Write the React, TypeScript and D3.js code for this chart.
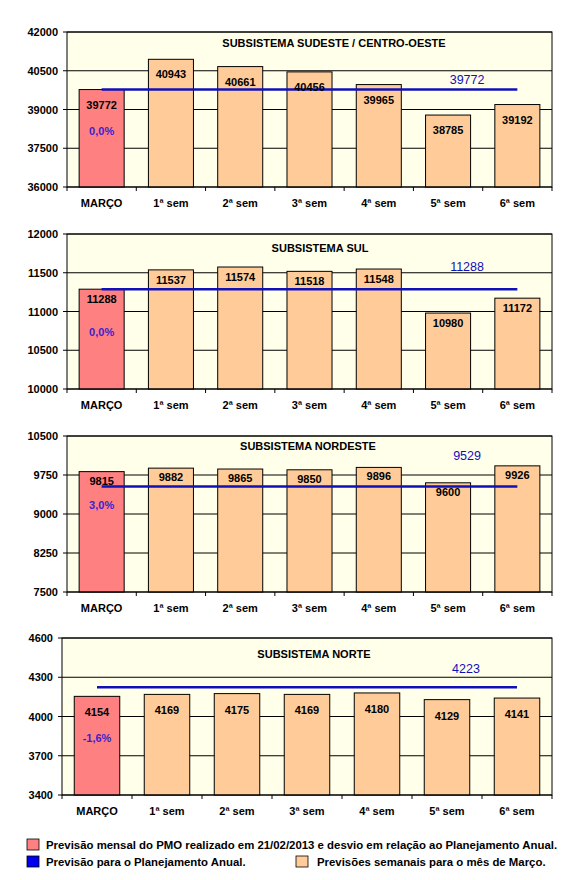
import React from "react";
import * as d3 from "d3";

const categories = ["MARÇO", "1ª sem", "2ª sem", "3ª sem", "4ª sem", "5ª sem", "6ª sem"];
const titles = [
  "SUBSISTEMA SUDESTE / CENTRO-OESTE",
  "SUBSISTEMA SUL",
  "SUBSISTEMA NORDESTE",
  "SUBSISTEMA NORTE",
];
const sudesteValues = [39772, 40943, 40661, 40456, 39965, 38785, 39192];
const sulValues = [11288, 11537, 11574, 11518, 11548, 10980, 11172];
const nordesteValues = [9815, 9882, 9865, 9850, 9896, 9600, 9926];
const norteValues = [4154, 4169, 4175, 4169, 4180, 4129, 4141];
const planValues = [39772, 11288, 9529, 4223];
const deviations = ["0,0%", "0,0%", "3,0%", "-1,6%"];
const yDomains: [number, number][] = [
  [36000, 42000],
  [10000, 12000],
  [7500, 10500],
  [3400, 4600],
];
const yTickSteps = [1500, 500, 750, 300];
const legendLabels = [
  "Previsão mensal do PMO realizado em 21/02/2013 e desvio em relação ao Planejamento Anual.",
  "Previsão para o Planejamento Anual.",
  "Previsões semanais para o mês de Março.",
];

const seriesValues = [sudesteValues, sulValues, nordesteValues, norteValues];

// layout
const panelTops = [32, 234, 436, 638];
const panelBottoms = [187, 389, 592, 795];
const panelLefts = [67, 67, 67, 62];
const panelRight = 552;
const titleCenters = [334, 320, 308, 314];
const titleOffsets = [11, 14, 10, 16];
const valueLabelOffsets = [15, 10, 9, 16];
const pctOffsets = [41, 43, 33, 42];
const planLabelOffsets = [10, 22, 30, 18];

const FONT = "'Liberation Sans', Arial, sans-serif";
const MONTH_COLOR = "#FF8080";
const WEEK_COLOR = "#FFCC99";
const PLAN_COLOR = "#1010B8";
const PCT_COLOR = "#3A1FD0";
const BG = "#FFFFEA";

function Panel({ i }: { i: number }) {
  const values = seriesValues[i];
  const [y0, y1] = yDomains[i];
  const top = panelTops[i];
  const bottom = panelBottoms[i];
  const left = panelLefts[i];
  const x = d3.scaleBand<string>().domain(categories).range([left, panelRight]).padding(0);
  const y = d3.scaleLinear().domain([y0, y1]).range([bottom, top]);
  const ticks = d3.range(y0, y1 + 1e-6, yTickSteps[i]);
  const bw = x.bandwidth() * 0.65;
  const planY = y(planValues[i]);
  const firstC = x(categories[0])! + x.bandwidth() / 2;
  const lastC = x(categories[categories.length - 1])! + x.bandwidth() / 2;
  const labelC = x(categories[5])! + x.bandwidth() / 2 + 19;

  return (
    <g>
      <rect x={left} y={top} width={panelRight - left} height={bottom - top} fill={BG} />
      {ticks.map((t) => (
        <g key={t}>
          <line x1={left - 4} x2={panelRight} y1={y(t)} y2={y(t)} stroke="#000" strokeWidth={1} />
          <text
            x={left - 9}
            y={y(t) + 4}
            textAnchor="end"
            fontSize={11}
            fontWeight="bold"
            fontFamily={FONT}
          >
            {t}
          </text>
        </g>
      ))}
      <text
        x={titleCenters[i]}
        y={top + titleOffsets[i] + 4}
        textAnchor="middle"
        fontSize={11}
        fontWeight="bold"
        fontFamily={FONT}
      >
        {titles[i]}
      </text>
      {values.map((v, j) => {
        const cx = x(categories[j])! + x.bandwidth() / 2;
        return (
          <rect
            key={j}
            x={cx - bw / 2}
            y={y(v)}
            width={bw}
            height={bottom - y(v)}
            fill={j === 0 ? MONTH_COLOR : WEEK_COLOR}
            stroke="#000"
            strokeWidth={1}
          />
        );
      })}
      <line x1={firstC} x2={lastC} y1={planY} y2={planY} stroke={PLAN_COLOR} strokeWidth={2.5} />
      {values.map((v, j) => {
        const cx = x(categories[j])! + x.bandwidth() / 2;
        return (
          <text
            key={j}
            x={cx}
            y={y(v) + valueLabelOffsets[i] + 4}
            textAnchor="middle"
            fontSize={11}
            fontWeight="bold"
            fontFamily={FONT}
          >
            {v}
          </text>
        );
      })}
      <text
        x={firstC}
        y={y(values[0]) + pctOffsets[i] + 4}
        textAnchor="middle"
        fontSize={11}
        fontWeight="bold"
        fill={PCT_COLOR}
        fontFamily={FONT}
      >
        {deviations[i]}
      </text>
      <text
        x={labelC}
        y={planY - planLabelOffsets[i] + 4}
        textAnchor="middle"
        fontSize={12.5}
        fill={PLAN_COLOR}
        fontFamily={FONT}
      >
        {planValues[i]}
      </text>
      <rect
        x={left}
        y={top}
        width={panelRight - left}
        height={bottom - top}
        fill="none"
        stroke="#000"
        strokeWidth={1}
      />
      {d3.range(categories.length + 1).map((k) => {
        const tx = left + k * x.step();
        return <line key={k} x1={tx} x2={tx} y1={bottom} y2={bottom + 4} stroke="#000" />;
      })}
      {categories.map((c) => (
        <text
          key={c}
          x={x(c)! + x.bandwidth() / 2}
          y={bottom + 20}
          textAnchor="middle"
          fontSize={11}
          fontWeight="bold"
          fontFamily={FONT}
        >
          {c}
        </text>
      ))}
    </g>
  );
}

export default function App() {
  return (
    <svg
      width={572}
      height={880}
      style={{ position: "absolute", left: 0, top: 0, background: "#fff" }}
    >
      <rect x={0} y={0} width={572} height={880} fill="#fff" />
      {titles.map((_, i) => (
        <Panel key={i} i={i} />
      ))}
      <rect x={27} y={839} width={12} height={11} fill={MONTH_COLOR} stroke="#000" strokeWidth={0.8} />
      <text x={46} y={849} fontSize={11.4} fontWeight="bold" fontFamily={FONT}>
        {legendLabels[0]}
      </text>
      <rect x={27} y={856} width={12} height={11} fill="#0000EE" stroke="#000" strokeWidth={0.8} />
      <text x={46} y={866} fontSize={11.4} fontWeight="bold" fontFamily={FONT}>
        {legendLabels[1]}
      </text>
      <rect x={296} y={856} width={12} height={11} fill={WEEK_COLOR} stroke="#000" strokeWidth={0.8} />
      <text x={317} y={866} fontSize={11.4} fontWeight="bold" fontFamily={FONT}>
        {legendLabels[2]}
      </text>
    </svg>
  );
}
